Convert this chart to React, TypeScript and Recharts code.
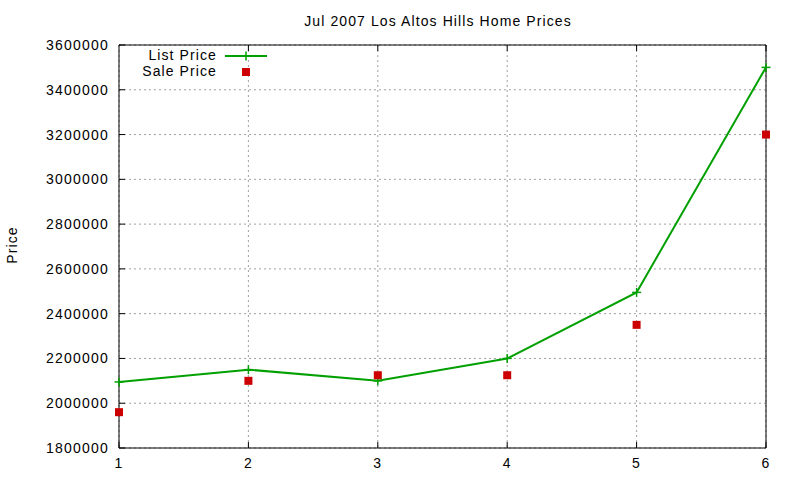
import React from "react";
import { LineChart, Line, XAxis, YAxis, CartesianGrid } from "recharts";

// x positions (house index) and prices
const houses = [1, 2, 3, 4, 5, 6];
const listPrice = [2095000, 2150000, 2100000, 2200000, 2495000, 3500000];
const salePrice = [1960000, 2100000, 2125000, 2125000, 2350000, 3200000];

const xTicks = [1, 2, 3, 4, 5, 6];
const yTicks = [1800000, 2000000, 2200000, 2400000, 2600000, 2800000, 3000000, 3200000, 3400000, 3600000];

const title = "Jul 2007 Los Altos Hills Home Prices";
const yLabel = "Price";
const listName = "List Price";
const saleName = "Sale Price";

const GREEN = "#00a000";
const RED = "#cc0000";
const FONT = "'Liberation Sans', Arial, sans-serif";

const data = houses.map((h, i) => ({ house: h, list: listPrice[i], sale: salePrice[i] }));

const tickStyle = { fill: "#000", fontSize: 14, fontFamily: FONT, letterSpacing: 1.2 };

const PlusDot = (p: any) => {
  const { cx, cy } = p;
  if (cx == null || cy == null) return <g />;
  return (
    <g stroke={GREEN} strokeWidth={1.5}>
      <line x1={cx - 4.5} y1={cy} x2={cx + 4.5} y2={cy} />
      <line x1={cx} y1={cy - 4.5} x2={cx} y2={cy + 4.5} />
    </g>
  );
};

const SquareDot = (p: any) => {
  const { cx, cy } = p;
  if (cx == null || cy == null) return <g />;
  return <rect x={cx - 4} y={cy - 4} width={8} height={8} fill={RED} />;
};

export default function App() {
  return (
    <div style={{ position: "absolute", left: 0, top: 0, width: 800, height: 480, background: "#fff" }}>
      <LineChart width={800} height={480} data={data} margin={{ top: 0, right: 0, bottom: 0, left: 0 }}>
        <CartesianGrid stroke="#a0a0a0" strokeDasharray="2 3" />
        <XAxis
          dataKey="house"
          type="number"
          domain={[1, 6]}
          ticks={xTicks}
          height={32}
          axisLine={{ stroke: "#000" }}
          tickLine={{ stroke: "#000" }}
          tickSize={-6}
          tickMargin={16}
          tick={tickStyle}
        />
        <XAxis
          xAxisId="top"
          orientation="top"
          type="number"
          domain={[1, 6]}
          ticks={xTicks}
          height={45}
          axisLine={{ stroke: "#000" }}
          tickLine={{ stroke: "#000" }}
          tickSize={-6}
          tickFormatter={() => ""}
        />
        <YAxis
          type="number"
          domain={[1800000, 3600000]}
          ticks={yTicks}
          width={119}
          axisLine={{ stroke: "#000" }}
          tickLine={{ stroke: "#000" }}
          tickSize={-6}
          tickMargin={16}
          tick={tickStyle}
          interval={0}
        />
        <YAxis
          yAxisId="right"
          orientation="right"
          type="number"
          domain={[1800000, 3600000]}
          ticks={yTicks}
          width={34}
          axisLine={{ stroke: "#000" }}
          tickLine={{ stroke: "#000" }}
          tickSize={-6}
          tickFormatter={() => ""}
          interval={0}
        />
        <Line
          dataKey="list"
          name={listName}
          stroke={GREEN}
          strokeWidth={2}
          dot={<PlusDot />}
          activeDot={false}
          isAnimationActive={false}
        />
        <Line
          dataKey="sale"
          name={saleName}
          stroke="none"
          dot={<SquareDot />}
          activeDot={false}
          isAnimationActive={false}
        />
      </LineChart>
      <svg width={800} height={480} style={{ position: "absolute", left: 0, top: 0, pointerEvents: "none" }}>
        <g fontFamily={FONT} fontSize={14} letterSpacing={1.1} fill="#000">
          <text x={438} y={21} textAnchor="middle" dominantBaseline="central">{title}</text>
          <text x={12} y={245} textAnchor="middle" dominantBaseline="central" transform="rotate(-90 12 245)">{yLabel}</text>
          <text x={217} y={55} textAnchor="end" dominantBaseline="central">{listName}</text>
          <text x={217} y={71} textAnchor="end" dominantBaseline="central">{saleName}</text>
        </g>
        <line x1={225} y1={56} x2={267} y2={56} stroke={GREEN} strokeWidth={2} />
        <line x1={246} y1={51.5} x2={246} y2={60.5} stroke={GREEN} strokeWidth={1.5} />
        <rect x={242} y={68} width={8} height={8} fill={RED} />
      </svg>
    </div>
  );
}
